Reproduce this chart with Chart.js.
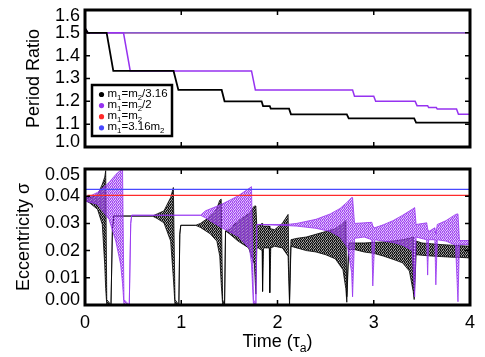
<!DOCTYPE html>
<html><head><meta charset="utf-8">
<script src="https://cdn.jsdelivr.net/npm/chart.js@4.4.1/dist/chart.umd.min.js"></script>
<style>
html,body{margin:0;padding:0;background:#fff;width:485px;height:357px;overflow:hidden}
canvas{position:absolute;left:0}
#top{top:0}
#bot{top:160px}
</style></head>
<body>
<canvas id="top" width="485" height="160"></canvas>
<canvas id="bot" width="485" height="197"></canvas>
<script>
// ---------------- data ----------------
const seriesLabels = ['m_1=m_2/3.16', 'm_1=m_2/2', 'm_1=m_2', 'm_1=3.16m_2'];
const seriesColors = ['#000000', '#9632f0', '#ff2a2a', '#4848ff'];

const xTicks = [0, 1, 2, 3, 4];
const xTickLabels = ['0', '1', '2', '3', '4'];
const ratioTicks = [1.0, 1.1, 1.2, 1.3, 1.4, 1.5, 1.6];
const ratioTickLabels = ['1.0', '1.1', '1.2', '1.3', '1.4', '1.5', '1.6'];
const eccTicks = [0, 0.01, 0.02, 0.03, 0.04, 0.05];
const eccTickLabels = ['0.00', '0.01', '0.02', '0.03', '0.04', '0.05'];

// Period ratio (top panel)
const ratioBlackT = [0, 0.03, 0.225, 0.294, 0.92, 0.97, 1.42, 1.45, 1.835, 1.85, 1.92, 1.93, 2.12, 2.14, 2.72, 2.74, 3.42, 3.44, 4.0];
const ratioBlack  = [1.52, 1.5, 1.5, 1.333, 1.333, 1.25, 1.25, 1.2, 1.2, 1.179, 1.179, 1.168, 1.168, 1.143, 1.143, 1.125, 1.125, 1.107, 1.107];
const ratioPurpleT = [0, 0.03, 0.40, 0.47, 1.73, 1.77, 2.78, 2.80, 3.00, 3.02, 3.43, 3.45, 3.56, 3.57, 3.65, 3.66, 3.86, 3.88, 4.0];
const ratioPurple  = [1.52, 1.5, 1.5, 1.333, 1.333, 1.25, 1.25, 1.222, 1.222, 1.2, 1.2, 1.181, 1.181, 1.173, 1.173, 1.166, 1.166, 1.143, 1.143];
const ratioRedT = [0, 4.0];
const ratioRed  = [1.5, 1.5];
const ratioBlueT = [0, 4.0];
const ratioBlue  = [1.5, 1.5];

// Eccentricity (bottom panel): oscillation envelopes (upper / lower)
const eccBlackT  = [0.00, 0.05, 0.13, 0.18, 0.205, 0.215, 0.226, 0.27, 0.285, 0.30, 0.70, 0.75, 0.82, 0.89, 0.918, 0.935, 0.975, 0.985, 0.995, 1.15, 1.20, 1.30, 1.37, 1.40, 1.415, 1.43, 1.45, 1.46, 1.50, 1.59, 1.70, 1.76, 1.775, 1.785, 1.80, 1.84, 1.845, 1.855, 1.915, 1.92, 1.93, 1.97, 2.05, 2.11, 2.125, 2.14, 2.20, 2.30, 2.40, 2.50, 2.60, 2.68, 2.71, 2.72, 2.74, 2.80, 2.90, 3.00, 3.10, 3.20, 3.30, 3.37, 3.41, 3.42, 3.44, 3.50, 3.60, 3.70, 3.80, 3.90, 4.00];
const eccBlackHi = [0.0395, 0.0395, 0.0405, 0.0444, 0.047, 0.0494, 0.002, 0, 0.028, 0.0327, 0.0327, 0.0335, 0.0346, 0.0395, 0.0432, 0.002, 0, 0.026, 0.0293, 0.0293, 0.030, 0.0325, 0.0355, 0.0385, 0.0389, 0.002, 0, 0.0272, 0.0278, 0.0309, 0.0335, 0.0364, 0.0364, 0.029, 0.029, 0.030, 0.029, 0.029, 0.029, 0.028, 0.028, 0.0277, 0.030, 0.0333, 0.002, 0.024, 0.0245, 0.025, 0.026, 0.027, 0.028, 0.030, 0.031, 0.003, 0.0228, 0.0228, 0.0228, 0.023, 0.0232, 0.0235, 0.024, 0.0245, 0.025, 0.004, 0.0235, 0.0228, 0.0225, 0.0222, 0.022, 0.0218, 0.0216];
const eccBlackLo = [0.0385, 0.0375, 0.0352, 0.0296, 0.0148, 0.006, 0, 0, 0.028, 0.0327, 0.0327, 0.0318, 0.0302, 0.0235, 0.010, 0, 0, 0.026, 0.0293, 0.0293, 0.0285, 0.0262, 0.0235, 0.018, 0.008, 0, 0, 0.0272, 0.0262, 0.0235, 0.021, 0.015, 0.004, 0.021, 0.021, 0.020, 0.005, 0.021, 0.021, 0.0045, 0.021, 0.0216, 0.021, 0.018, 0, 0.0216, 0.021, 0.020, 0.0195, 0.0185, 0.017, 0.013, 0.006, 0.001, 0.0204, 0.0204, 0.0195, 0.019, 0.018, 0.0168, 0.0155, 0.0125, 0.005, 0.002, 0.0185, 0.0183, 0.018, 0.0178, 0.0176, 0.0175, 0.0173];

const eccPurpleT  = [0.00, 0.05, 0.13, 0.25, 0.32, 0.37, 0.39, 0.405, 0.46, 0.475, 0.485, 1.20, 1.25, 1.42, 1.59, 1.71, 1.73, 1.75, 1.775, 1.785, 2.10, 2.20, 2.40, 2.55, 2.65, 2.73, 2.77, 2.78, 2.80, 2.90, 2.98, 2.99, 3.01, 3.10, 3.20, 3.30, 3.40, 3.425, 3.44, 3.55, 3.56, 3.57, 3.635, 3.645, 3.66, 3.75, 3.85, 3.875, 3.89, 4.00];
const eccPurpleHi = [0.0395, 0.0400, 0.0414, 0.0450, 0.0480, 0.0495, 0.0500, 0.002, 0, 0.030, 0.033, 0.033, 0.0346, 0.0370, 0.0401, 0.0430, 0.0435, 0.002, 0, 0.0296, 0.0296, 0.0300, 0.0315, 0.0335, 0.0355, 0.0380, 0.0395, 0.0395, 0.0300, 0.0302, 0.0304, 0.0290, 0.0284, 0.0295, 0.0310, 0.0330, 0.0352, 0.0358, 0.0296, 0.0302, 0.0280, 0.0270, 0.0284, 0.0260, 0.0296, 0.0310, 0.0333, 0.0335, 0.0237, 0.0237];
const eccPurpleLo = [0.0382, 0.0378, 0.0370, 0.0315, 0.0235, 0.0150, 0.0080, 0, 0, 0.030, 0.033, 0.033, 0.0321, 0.0284, 0.0253, 0.0207, 0.0150, 0, 0, 0.0296, 0.0292, 0.0290, 0.0282, 0.0270, 0.0250, 0.0210, 0.0120, 0.0030, 0.0245, 0.0250, 0.0240, 0.0070, 0.0240, 0.0235, 0.0230, 0.0220, 0.0200, 0.0030, 0.0250, 0.0240, 0.0110, 0.0240, 0.0240, 0.0074, 0.0240, 0.0235, 0.0220, 0.0012, 0.0222, 0.0222];

const eccRedT = [0.025, 4.0];
const eccRed  = [0.0403, 0.0403];
const eccBlueT = [0, 0.004, 4.0];
const eccBlue  = [0, 0.0425, 0.0425];

// ---------------- helpers ----------------
const FONT = "'Liberation Sans', Arial, Helvetica, sans-serif";
const pts = (t, v) => t.map((x, i) => ({x: x, y: v[i]}));

function richRuns(str) {
  const runs = []; let cur = '';
  for (let i = 0; i < str.length; i++) {
    if (str[i] === '_' && i + 1 < str.length) {
      if (cur) { runs.push({t: cur, sub: false}); cur = ''; }
      runs.push({t: str[++i], sub: true});
    } else cur += str[i];
  }
  if (cur) runs.push({t: cur, sub: false});
  return runs;
}
function measureRich(ctx, str, size) {
  let w = 0;
  for (const r of richRuns(str)) {
    ctx.font = (r.sub ? size * 0.68 : size) + 'px ' + FONT;
    w += ctx.measureText(r.t).width;
  }
  return w;
}
function drawRich(ctx, str, x, y, size) {
  let cx = x;
  ctx.textAlign = 'left'; ctx.textBaseline = 'middle';
  for (const r of richRuns(str)) {
    ctx.font = (r.sub ? size * 0.68 : size) + 'px ' + FONT;
    ctx.fillText(r.t, cx, r.sub ? y + size * 0.32 : y);
    cx += ctx.measureText(r.t).width;
  }
}
// speckled texture to suggest the dense oscillation cloud
function speckle(canvas, rgb, alphas) {
  const h = alphas.length, w = alphas[0].length;
  const c = document.createElement('canvas'); c.width = w; c.height = h;
  const g = c.getContext('2d');
  for (let j = 0; j < h; j++) for (let i = 0; i < w; i++) {
    g.fillStyle = 'rgba(' + rgb + ',' + alphas[j][i] + ')';
    g.fillRect(i, j, 1, 1);
  }
  return canvas.getContext('2d').createPattern(c, 'repeat');
}

// frame, inward ticks, y tick labels, axis titles, legend
const decorPlugin = {
  id: 'decor',
  afterDatasetsDraw(chart, args, o) {
    const {ctx, chartArea: a, scales} = chart;
    ctx.save();
    ctx.strokeStyle = '#000'; ctx.fillStyle = '#000';
    ctx.lineWidth = 1.5;
    const L = 5;
    ctx.beginPath();
    for (const v of xTicks) {
      const px = scales.x.getPixelForValue(v);
      ctx.moveTo(px, a.top); ctx.lineTo(px, a.top + L);
      ctx.moveTo(px, a.bottom); ctx.lineTo(px, a.bottom - L);
    }
    for (const v of o.yTicks) {
      const py = scales.y.getPixelForValue(v);
      ctx.moveTo(a.left, py); ctx.lineTo(a.left + L, py);
      ctx.moveTo(a.right, py); ctx.lineTo(a.right - L, py);
    }
    ctx.stroke();
    ctx.lineWidth = 3;
    ctx.strokeRect(a.left, a.top, a.right - a.left, a.bottom - a.top);
    ctx.font = '18px ' + FONT;
    ctx.textAlign = 'right'; ctx.textBaseline = 'middle';
    o.yTicks.forEach((v, i) => {
      let py = scales.y.getPixelForValue(v);
      py = Math.max(a.top + 6, Math.min(a.bottom - 5, py));
      ctx.fillText(o.yLabels[i], a.left - 5, py);
    });
    ctx.save();
    ctx.translate(o.yTitleX, (a.top + a.bottom) / 2);
    ctx.rotate(-Math.PI / 2);
    ctx.textAlign = 'center'; ctx.textBaseline = 'middle';
    ctx.font = '18px ' + FONT;
    ctx.fillText(o.yTitle, 0, 0);
    ctx.restore();
    if (o.xTitle) {
      const w = measureRich(ctx, o.xTitle, 18);
      drawRich(ctx, o.xTitle, (a.left + a.right) / 2 - w / 2, o.xTitleY, 18);
    }
    if (o.legend) {
      const bx = 92, by = 85, bw = 80, bh = 51;
      ctx.fillStyle = '#fff';
      ctx.fillRect(bx, by, bw, bh);
      ctx.lineWidth = 2.5; ctx.strokeStyle = '#000';
      ctx.strokeRect(bx, by, bw, bh);
      seriesLabels.forEach((lab, i) => {
        const y = by + 9.5 + i * 11.1;
        ctx.fillStyle = seriesColors[i];
        ctx.beginPath(); ctx.arc(bx + 9.5, y, 2.6, 0, Math.PI * 2); ctx.fill();
        ctx.fillStyle = '#000';
        drawRich(ctx, lab, bx + 15.5, y - 0.5, 11.5);
      });
    }
    ctx.restore();
  }
};

function makeOptions(yMin, yMax, yTicks, showX, padBottom, xHeight, padTop, decor) {
  return {
    responsive: false, animation: false, devicePixelRatio: 1,
    layout: {padding: {left: 0, right: 15, top: padTop, bottom: padBottom}},
    plugins: {legend: {display: false}, tooltip: {enabled: false}, decor: decor},
    elements: {point: {radius: 0}, line: {tension: 0}},
    scales: {
      x: {
        type: 'linear', min: 0, max: 4,
        afterBuildTicks: s => { s.ticks = xTicks.map(v => ({value: v})); },
        grid: {display: false, drawTicks: false}, border: {display: false},
        ticks: {display: showX, padding: 7, color: '#000', font: {family: FONT, size: 18},
                callback: (v) => xTickLabels[xTicks.indexOf(v)]},
        afterFit: s => { s.height = xHeight; }
      },
      y: {
        type: 'linear', min: yMin, max: yMax,
        afterBuildTicks: s => { s.ticks = yTicks.map(v => ({value: v})); },
        grid: {display: false, drawTicks: false}, border: {display: false},
        ticks: {display: false},
        afterFit: s => { s.width = 85; }
      }
    }
  };
}

// ---------------- top chart: period ratio ----------------
new Chart(document.getElementById('top'), {
  type: 'line',
  data: {datasets: [
    {label: seriesLabels[0], data: pts(ratioBlackT, ratioBlack), borderColor: seriesColors[0], borderWidth: 1.8, fill: false},
    {label: seriesLabels[1], data: pts(ratioPurpleT, ratioPurple), borderColor: seriesColors[1], borderWidth: 1.5, fill: false},
    {label: seriesLabels[3], data: pts(ratioBlueT, ratioBlue), borderColor: '#5c5cf2', borderWidth: 1.2, fill: false},
    {label: seriesLabels[2], data: pts(ratioRedT, ratioRed), borderColor: seriesColors[2], borderWidth: 1.2, fill: false}
  ]},
  options: makeOptions(1.0, 1.6, ratioTicks, false, 13, 0, 10,
    {yTicks: ratioTicks, yLabels: ratioTickLabels, yTitle: 'Period Ratio', yTitleX: 34, legend: true}),
  plugins: [decorPlugin]
});

// ---------------- bottom chart: eccentricity ----------------
const botCanvas = document.getElementById('bot');
const blackPat = speckle(botCanvas, '0,0,0', [
  [0.95, 0.55, 0.9, 0.35],
  [0.5, 0.95, 0.3, 0.9],
  [0.9, 0.4, 0.95, 0.65]
]);
const purplePat = speckle(botCanvas, '150,50,240', [
  [0.9, 0.45, 0.85, 0.25],
  [0.4, 0.9, 0.2, 0.85],
  [0.85, 0.3, 0.9, 0.55]
]);
new Chart(botCanvas, {
  type: 'line',
  data: {datasets: [
    {label: seriesLabels[3], data: pts(eccBlueT, eccBlue), borderColor: seriesColors[3], borderWidth: 1.3, fill: false},
    {label: seriesLabels[2], data: pts(eccRedT, eccRed), borderColor: seriesColors[2], borderWidth: 1.3, fill: false},
    {label: seriesLabels[1] + ' max', data: pts(eccPurpleT, eccPurpleHi), borderColor: seriesColors[1], borderWidth: 0.8, fill: '+1', backgroundColor: purplePat},
    {label: seriesLabels[1] + ' min', data: pts(eccPurpleT, eccPurpleLo), borderColor: seriesColors[1], borderWidth: 0.8, fill: false},
    {label: seriesLabels[0] + ' max', data: pts(eccBlackT, eccBlackHi), borderColor: seriesColors[0], borderWidth: 0.8, fill: '+1', backgroundColor: blackPat},
    {label: seriesLabels[0] + ' min', data: pts(eccBlackT, eccBlackLo), borderColor: seriesColors[0], borderWidth: 0.8, fill: false}
  ]},
  options: makeOptions(0, 0.05, eccTicks, true, 0, 52, 9,
    {yTicks: eccTicks, yLabels: eccTickLabels, yTitle: 'Eccentricity σ', yTitleX: 24, xTitle: 'Time (τ_a)', xTitleY: 182.5, legend: false}),
  plugins: [decorPlugin]
});
</script>
</body></html>
